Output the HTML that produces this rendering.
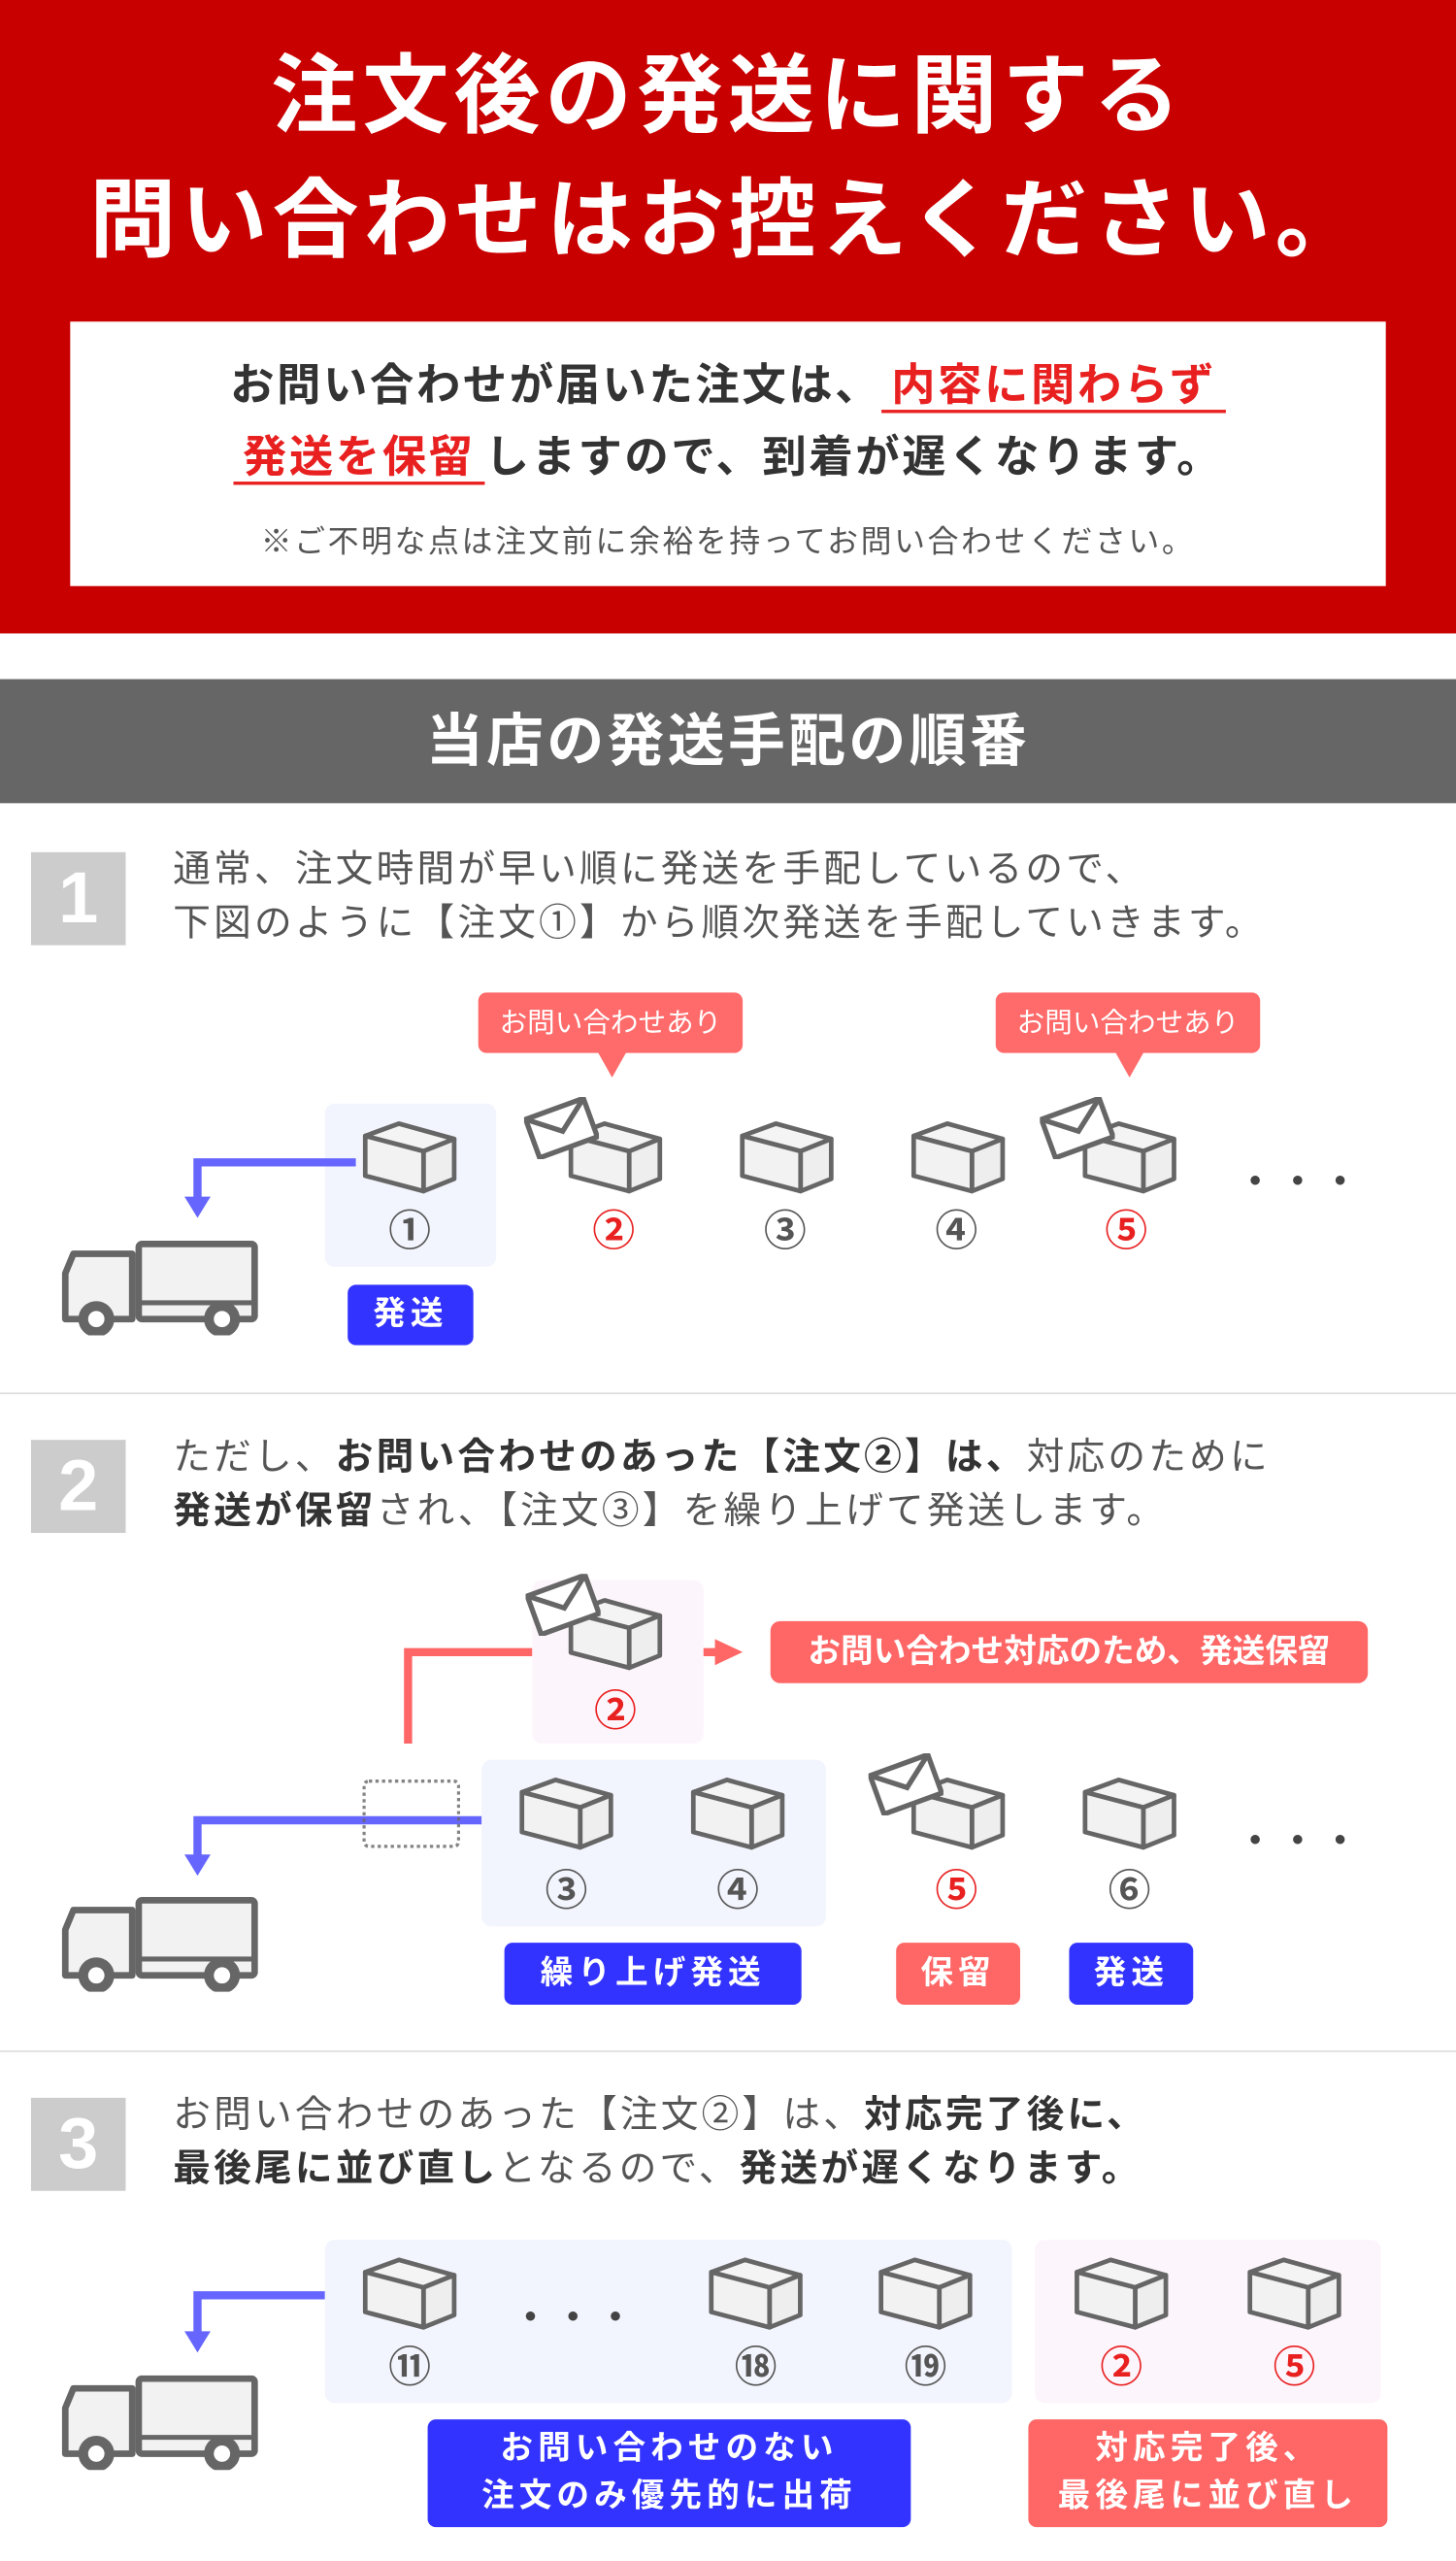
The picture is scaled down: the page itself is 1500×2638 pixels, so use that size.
<!DOCTYPE html>
<html><head><meta charset="utf-8"><style>
*{margin:0;padding:0;box-sizing:border-box}
body{width:1500px;height:2637px;overflow:hidden;background:#fff;font-family:"Liberation Sans","Noto Sans CJK JP",sans-serif}
#w{position:absolute;left:0;top:0;width:892px;height:1569px;transform:scale(1.68161);transform-origin:0 0}
.a{position:absolute}
.c{text-align:center}
.num{position:absolute;width:58px;height:57px;background:#ccc;color:#fff;font-weight:bold;font-size:44px;line-height:57px;text-align:center;left:19px}
.t{position:absolute;left:106px;font-size:23px;color:#555;line-height:33px;white-space:nowrap;letter-spacing:1.9px}
.t b{color:#333}
.hl{position:absolute;background:#f3f5fe;border-radius:6px}
.pk{position:absolute;background:#fdf5fc;border-radius:6px}
.cn{position:absolute;width:40px;text-align:center;font-size:26px;color:#555;line-height:30px;font-weight:bold}
.r{color:#e82020}
.btn{position:absolute;color:#fff;font-weight:bold;font-size:20px;text-align:center;border-radius:5px;letter-spacing:3px}
.blue{background:#3333ff}.red{background:#ff6666}
.dots{position:absolute;font-size:22px;color:#444;letter-spacing:4px;font-weight:bold}
</style></head><body><div id="w">
<svg width="0" height="0" style="position:absolute"><defs>
<symbol id="bx" viewBox="-2 -2 66 50"><polygon points="2,10 24,2 60,12 40,20" fill="#f4f4f4" stroke="#666" stroke-width="3" stroke-linejoin="round"/><polygon points="40,20 60,12 60,38 40,46" fill="#eee" stroke="#666" stroke-width="3" stroke-linejoin="round"/><polygon points="2,10 40,20 40,46 2,36" fill="#f2f2f2" stroke="#666" stroke-width="3" stroke-linejoin="round"/></symbol>
<symbol id="en" viewBox="0 0 44 36"><g transform="rotate(-20 22 18)"><rect x="4" y="6" width="36" height="24" fill="#fff" stroke="#666" stroke-width="3"/><polyline points="4,6 22,20 40,6" fill="none" stroke="#666" stroke-width="3"/></g></symbol>
<symbol id="tr" viewBox="0 0 122 58"><path d="M3,20 L8,8 H44 V48 H3 Z" fill="#f2f2f2" stroke="#666" stroke-width="4" stroke-linejoin="round"/><rect x="48" y="2" width="71" height="46" rx="2" fill="#f2f2f2" stroke="#666" stroke-width="4"/><line x1="48" y1="38" x2="119" y2="38" stroke="#666" stroke-width="3"/><circle cx="22" cy="48" r="8" fill="#fff" stroke="#666" stroke-width="6"/><circle cx="99" cy="48" r="8" fill="#fff" stroke="#666" stroke-width="6"/></symbol>
</defs></svg>

<div class="a" style="left:0;top:0;width:892px;height:388px;background:#c90000"></div>
<div class="a c" style="left:0;top:22px;width:892px;color:#fff;font-weight:bold;font-size:53px;line-height:76px;letter-spacing:3px">注文後の発送に関する<br>問い合わせはお控えください。</div>
<div class="a" style="left:43px;top:197px;width:806px;height:162px;background:#fff"></div>
<div class="a c" style="left:43px;top:214px;width:806px;font-size:27px;font-weight:bold;color:#333;line-height:44px;letter-spacing:1.5px">お問い合わせが届いた注文は、<span class="r" style="border-bottom:2px solid #e82020;padding:0 6px">内容に関わらず</span><br><span class="r" style="border-bottom:2px solid #e82020;padding:0 6px">発送を保留</span>しますので、到着が遅くなります。</div>
<div class="a c" style="left:43px;top:317px;width:806px;font-size:19px;color:#555;letter-spacing:1.5px">※ご不明な点は注文前に余裕を持ってお問い合わせください。</div>

<div class="a" style="left:0;top:416px;width:892px;height:76px;background:#666"></div>
<div class="a c" style="left:0;top:433px;width:892px;color:#fff;font-weight:bold;font-size:35px;line-height:44px;letter-spacing:2px">当店の発送手配の順番</div>

<!-- section 1 -->
<div class="num" style="top:522px">1</div>
<div class="t" style="top:516px">通常、注文時間が早い順に発送を手配しているので、<br>下図のように【注文①】から順次発送を手配していきます。</div>
<div class="a" style="left:293px;top:608px;width:162px;height:37px;background:#ff6a6a;border-radius:5px;color:#fff;font-size:17px;line-height:37px;text-align:center">お問い合わせあり</div>
<div class="a" style="left:366px;top:644px;width:0;height:0;border-left:9px solid transparent;border-right:9px solid transparent;border-top:16px solid #ff6a6a"></div>
<div class="a" style="left:610px;top:608px;width:162px;height:37px;background:#ff6a6a;border-radius:5px;color:#fff;font-size:17px;line-height:37px;text-align:center">お問い合わせあり</div>
<div class="a" style="left:683px;top:644px;width:0;height:0;border-left:9px solid transparent;border-right:9px solid transparent;border-top:16px solid #ff6a6a"></div>
<div class="hl" style="left:199px;top:676px;width:105px;height:100px"></div>
<svg class="a" style="left:0;top:0" width="892" height="1569">
<polyline points="218,712 121,712 121,735" fill="none" stroke="#6666ff" stroke-width="5"/><polygon points="113,733 129,733 121,746" fill="#6666ff"/>
<polyline points="250,1068 250,1012 440,1012" fill="none" stroke="#ff6666" stroke-width="5"/><polygon points="438,1004 438,1020 455,1012" fill="#ff6666"/>
<polyline points="318,1115 121,1115 121,1138" fill="none" stroke="#6666ff" stroke-width="5"/><polygon points="113,1136 129,1136 121,1149" fill="#6666ff"/>
<polyline points="218,1406 121,1406 121,1430" fill="none" stroke="#6666ff" stroke-width="5"/><polygon points="113,1428 129,1428 121,1441" fill="#6666ff"/>
</svg>
<svg class="a" style="left:220px;top:684px" width="62" height="48"><use href="#bx"/></svg>
<svg class="a" style="left:346px;top:684px" width="62" height="48"><use href="#bx"/></svg>
<svg class="a" style="left:321px;top:672px" width="46" height="38"><use href="#en"/></svg>
<svg class="a" style="left:451px;top:684px" width="62" height="48"><use href="#bx"/></svg>
<svg class="a" style="left:556px;top:684px" width="62" height="48"><use href="#bx"/></svg>
<svg class="a" style="left:661px;top:684px" width="62" height="48"><use href="#bx"/></svg>
<svg class="a" style="left:637px;top:672px" width="46" height="38"><use href="#en"/></svg>
<div class="cn" style="left:231px;top:739px">①</div>
<div class="cn r" style="left:356px;top:739px">②</div>
<div class="cn" style="left:461px;top:739px">③</div>
<div class="cn" style="left:566px;top:739px">④</div>
<div class="cn r" style="left:670px;top:739px">⑤</div>
<div class="dots" style="left:758px;top:706px">・・・</div>
<svg class="a" style="left:37px;top:760px" width="122" height="58"><use href="#tr"/></svg>
<div class="btn blue" style="left:213px;top:787px;width:77px;height:37px;line-height:37px">発送</div>
<div class="a" style="left:0;top:853px;width:892px;height:1px;background:#ddd"></div>

<!-- section 2 -->
<div class="num" style="top:882px">2</div>
<div class="t" style="top:876px">ただし、<b>お問い合わせのあった【注文②】は、</b>対応のために<br><b>発送が保留</b>され、【注文③】を繰り上げて発送します。</div>
<div class="pk" style="left:326px;top:968px;width:105px;height:100px"></div>
<svg class="a" style="left:346px;top:976px" width="62" height="48"><use href="#bx"/></svg>
<svg class="a" style="left:322px;top:964px" width="46" height="38"><use href="#en"/></svg>
<div class="cn r" style="left:357px;top:1033px">②</div>
<div class="a" style="left:472px;top:993px;width:366px;height:38px;background:#ff6666;border-radius:6px;color:#fff;font-weight:bold;font-size:20px;line-height:38px;text-align:center">お問い合わせ対応のため、発送保留</div>
<div class="a" style="left:222px;top:1090px;width:60px;height:42px;border:2px dotted #666;border-radius:4px;opacity:.8"></div>
<div class="hl" style="left:295px;top:1078px;width:211px;height:102px"></div>
<svg class="a" style="left:316px;top:1086px" width="62" height="48"><use href="#bx"/></svg>
<svg class="a" style="left:421px;top:1086px" width="62" height="48"><use href="#bx"/></svg>
<svg class="a" style="left:556px;top:1086px" width="62" height="48"><use href="#bx"/></svg>
<svg class="a" style="left:532px;top:1074px" width="46" height="38"><use href="#en"/></svg>
<svg class="a" style="left:661px;top:1086px" width="62" height="48"><use href="#bx"/></svg>
<div class="cn" style="left:327px;top:1143px">③</div>
<div class="cn" style="left:432px;top:1143px">④</div>
<div class="cn r" style="left:566px;top:1143px">⑤</div>
<div class="cn" style="left:672px;top:1143px">⑥</div>
<div class="dots" style="left:758px;top:1110px">・・・</div>
<svg class="a" style="left:37px;top:1162px" width="122" height="58"><use href="#tr"/></svg>
<div class="btn blue" style="left:309px;top:1190px;width:182px;height:38px;line-height:38px">繰り上げ発送</div>
<div class="btn red" style="left:549px;top:1190px;width:76px;height:38px;line-height:38px">保留</div>
<div class="btn blue" style="left:655px;top:1190px;width:76px;height:38px;line-height:38px">発送</div>
<div class="a" style="left:0;top:1256px;width:892px;height:1px;background:#ddd"></div>

<!-- section 3 -->
<div class="num" style="top:1285px">3</div>
<div class="t" style="top:1279px">お問い合わせのあった【注文②】は、<b>対応完了後に、</b><br><b>最後尾に並び直し</b>となるので、<b>発送が遅くなります。</b></div>
<div class="hl" style="left:199px;top:1372px;width:421px;height:100px"></div>
<div class="pk" style="left:634px;top:1372px;width:212px;height:100px"></div>
<svg class="a" style="left:220px;top:1380px" width="62" height="48"><use href="#bx"/></svg>
<svg class="a" style="left:432px;top:1380px" width="62" height="48"><use href="#bx"/></svg>
<svg class="a" style="left:536px;top:1380px" width="62" height="48"><use href="#bx"/></svg>
<svg class="a" style="left:656px;top:1380px" width="62" height="48"><use href="#bx"/></svg>
<svg class="a" style="left:762px;top:1380px" width="62" height="48"><use href="#bx"/></svg>
<div class="dots" style="left:314px;top:1402px">・・・</div>
<div class="cn" style="left:231px;top:1435px">⑪</div>
<div class="cn" style="left:443px;top:1435px">⑱</div>
<div class="cn" style="left:547px;top:1435px">⑲</div>
<div class="cn r" style="left:667px;top:1435px">②</div>
<div class="cn r" style="left:773px;top:1435px">⑤</div>
<svg class="a" style="left:37px;top:1455px" width="122" height="58"><use href="#tr"/></svg>
<div class="btn blue" style="left:262px;top:1482px;width:296px;height:66px;line-height:29px;padding-top:4px">お問い合わせのない<br>注文のみ優先的に出荷</div>
<div class="btn red" style="left:630px;top:1482px;width:220px;height:66px;line-height:29px;padding-top:4px">対応完了後、<br>最後尾に並び直し</div>
</div></body></html>
